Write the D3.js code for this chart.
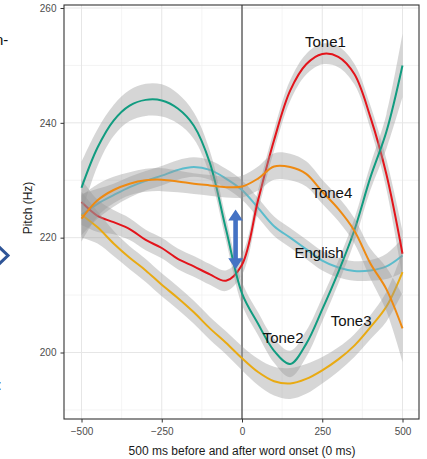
<!DOCTYPE html>
<html>
<head>
<meta charset="utf-8">
<script src="https://cdn.jsdelivr.net/npm/d3@7"></script>
<style>
  html, body { margin: 0; padding: 0; background: #fff; }
  svg { display: block; font-family: "Liberation Sans", Arial, sans-serif; }
</style>
</head>
<body>
<svg id="chart" width="427" height="459"></svg>
<script>
// Time points (ms relative to word onset)
const times = [-500, -450, -400, -350, -300, -250, -200, -150, -100, -50, 0,
               50, 100, 150, 200, 250, 300, 350, 400, 450, 500];

// Smoothed pitch (Hz) per condition
const english = [224, 225.9, 227.4, 228.8, 229.9, 230.8, 231.8, 232.3, 231.8, 230.3, 228.3,
                 225.2, 222, 220, 218, 216, 214.8, 214.2, 214.3, 215, 216.9];
const tone1 = [226.2, 223.8, 222.7, 221.5, 219.6, 218.2, 216.3, 215, 213.6, 212.5, 215.3,
               226.5, 237, 245.6, 250.2, 252, 251.5, 248.5, 241, 231, 217.2];
const tone2 = [228.7, 235.7, 240.4, 243, 244, 243.9, 242.5, 239.5, 233, 221.5, 210.3,
               205, 200.3, 198, 201.5, 207.5, 214, 221.3, 230.5, 238.5, 250];
const tone3 = [224, 221.8, 219, 216.5, 214.3, 211.8, 209.5, 207, 204.2, 201.7, 199,
               196.6, 195, 194.6, 195.4, 196.9, 198.8, 201.2, 204.4, 208, 214];
const tone4 = [223.3, 226.5, 228.3, 229.4, 230, 230.1, 229.8, 229.4, 229.1, 228.8, 228.9,
               230.3, 232.4, 232.3, 231.1, 228, 225, 221.2, 215.5, 211, 204.2];

// Half-widths of the confidence bands (Hz)
const englishSE = [3.6, 2.6, 2, 1.8, 1.7, 1.7, 1.7, 1.7, 1.7, 1.7, 1.7,
                   1.7, 1.7, 1.7, 1.7, 1.7, 1.7, 1.7, 1.8, 2.2, 3];
const tone1SE = [4, 2.8, 2.1, 1.9, 1.8, 1.8, 1.8, 1.8, 1.8, 1.8, 1.8,
                 1.8, 1.8, 1.8, 1.8, 1.8, 1.8, 1.8, 2, 2.6, 4];
const tone2SE = [4.5, 3.2, 2.7, 2.7, 2.8, 2.8, 2.6, 2.3, 2.1, 2, 2,
                 2, 2.1, 2.3, 2.3, 2.1, 2, 2, 2.2, 3, 5.5];
const tone3SE = [4, 2.8, 2.2, 2, 2, 2, 2, 2, 2, 2, 2.1,
                 2.3, 2.5, 2.7, 2.6, 2.3, 2.1, 2, 2.1, 2.6, 3.6];
const tone4SE = [4, 2.8, 2.3, 2, 2, 2, 1.9, 1.8, 1.8, 1.8, 1.9,
                 2.1, 2.3, 2.3, 2.2, 2.1, 2.1, 2.2, 2.6, 3.8, 5.8];

const seriesNames = ["English", "Tone1", "Tone2", "Tone3", "Tone4"];
const seriesValues = [english, tone1, tone2, tone3, tone4];
const seriesSE = [englishSE, tone1SE, tone2SE, tone3SE, tone4SE];
const seriesColors = ["#5bbccc", "#e3141b", "#119c80", "#e9aa12", "#ee8a12"];

// Direct labels: [name, time (ms), pitch (Hz)]
const labelNames = ["Tone1", "Tone4", "English", "Tone2", "Tone3"];
const labelTimes = [260, 280, 240, 128, 340];
const labelPitch = [253.2, 226.9, 216.4, 201.7, 204.7];

const xTicks = [-500, -250, 0, 250, 500];
const xMinor = [-375, -125, 125, 375];
const yTicks = [200, 220, 240, 260];
const yMinor = [190, 210, 230, 250];

// Annotation arrow span (ms, Hz)
const arrowTime = -20;
const arrowPitch = [224.9, 214.5];

const svg = d3.select("#chart");
const panel = { left: 64, right: 419, top: 5, bottom: 419 };

const x = d3.scaleLinear().domain([-500, 500]).range([81.5, 402.5]);
const y = d3.scaleLinear().domain([200, 260]).range([352.5, 8]);

// Grid
const grid = svg.append("g");
grid.selectAll("line.xminor").data(xMinor).join("line")
  .attr("x1", d => x(d)).attr("x2", d => x(d))
  .attr("y1", panel.top).attr("y2", panel.bottom)
  .attr("stroke", "#efefef").attr("stroke-width", 0.7);
grid.selectAll("line.yminor").data(yMinor).join("line")
  .attr("x1", panel.left).attr("x2", panel.right)
  .attr("y1", d => y(d)).attr("y2", d => y(d))
  .attr("stroke", "#efefef").attr("stroke-width", 0.7);
grid.selectAll("line.xmajor").data(xTicks).join("line")
  .attr("x1", d => x(d)).attr("x2", d => x(d))
  .attr("y1", panel.top).attr("y2", panel.bottom)
  .attr("stroke", "#e6e6e6").attr("stroke-width", 1);
grid.selectAll("line.ymajor").data(yTicks).join("line")
  .attr("x1", panel.left).attr("x2", panel.right)
  .attr("y1", d => y(d)).attr("y2", d => y(d))
  .attr("stroke", "#e6e6e6").attr("stroke-width", 1);

// Onset line
svg.append("line")
  .attr("x1", x(0)).attr("x2", x(0))
  .attr("y1", panel.top).attr("y2", panel.bottom)
  .attr("stroke", "#333").attr("stroke-width", 1.1);

const curve = d3.curveCatmullRom.alpha(0.5);
const area = d3.area()
  .x(d => x(d.t)).y0(d => y(d.v - d.se)).y1(d => y(d.v + d.se)).curve(curve);
const line = d3.line().x(d => x(d.t)).y(d => y(d.v)).curve(curve);

svg.append("clipPath").attr("id", "panel-clip").append("rect")
  .attr("x", panel.left).attr("y", panel.top)
  .attr("width", panel.right - panel.left).attr("height", panel.bottom - panel.top);

const smooths = svg.append("g").attr("clip-path", "url(#panel-clip)");
seriesNames.forEach((name, i) => {
  const pts = times.map((t, j) => ({ t, v: seriesValues[i][j], se: seriesSE[i][j] }));
  smooths.append("path").datum(pts)
    .attr("d", area).attr("fill", "#999").attr("fill-opacity", 0.4);
  smooths.append("path").datum(pts)
    .attr("d", line).attr("fill", "none")
    .attr("stroke", seriesColors[i]).attr("stroke-width", 2);
});

// Panel border
svg.append("rect")
  .attr("x", panel.left).attr("y", panel.top)
  .attr("width", panel.right - panel.left).attr("height", panel.bottom - panel.top)
  .attr("fill", "none").attr("stroke", "#333").attr("stroke-width", 1.1);

// Axes
const xAxis = svg.append("g").attr("transform", `translate(0,${panel.bottom})`)
  .call(d3.axisBottom(x).tickValues(xTicks).tickSize(3.5).tickSizeOuter(0).tickPadding(5));
const yAxis = svg.append("g").attr("transform", `translate(${panel.left},0)`)
  .call(d3.axisLeft(y).tickValues(yTicks).tickSize(3.5).tickSizeOuter(0).tickPadding(4));
[xAxis, yAxis].forEach(a => {
  a.select(".domain").remove();
  a.selectAll(".tick line").attr("stroke", "#333");
  a.selectAll(".tick text").attr("fill", "#4d4d4d")
    .style("font-size", "10px").style("font-family", "Liberation Sans, Arial, sans-serif");
});

svg.append("text")
  .attr("x", 242).attr("y", 455)
  .attr("text-anchor", "middle").attr("fill", "#1a1a1a")
  .style("font-size", "12px")
  .text("500 ms before and after word onset (0 ms)");
svg.append("text")
  .attr("transform", "translate(32,208) rotate(-90)")
  .attr("text-anchor", "middle").attr("fill", "#1a1a1a")
  .style("font-size", "12px")
  .text("Pitch (Hz)");

// Direct series labels
labelNames.forEach((n, i) => {
  svg.append("text")
    .attr("x", x(labelTimes[i])).attr("y", y(labelPitch[i]))
    .attr("text-anchor", "middle").attr("fill", "#111")
    .style("font-size", "15px")
    .text(n);
});

// Double-headed annotation arrow
const ax = x(arrowTime), ay1 = y(arrowPitch[0]), ay2 = y(arrowPitch[1]);
const hw = 7.3, hh = 11, sw = 2.3;
svg.append("path")
  .attr("d", `M${ax},${ay1} L${ax + hw},${ay1 + hh} L${ax + sw},${ay1 + hh}
              L${ax + sw},${ay2 - hh} L${ax + hw},${ay2 - hh} L${ax},${ay2}
              L${ax - hw},${ay2 - hh} L${ax - sw},${ay2 - hh} L${ax - sw},${ay1 + hh}
              L${ax - hw},${ay1 + hh} Z`)
  .attr("fill", "#4472c4");

// Fragments of neighbouring slide content at the left edge
svg.append("text").attr("x", -5).attr("y", 45)
  .style("font-size", "15px").attr("fill", "#111").text("n-");
svg.append("path")
  .attr("d", "M-20,250 L-4,250 L-4,244 L8,255.5 L-4,267 L-4,261 L-20,261 Z")
  .attr("fill", "#fff").attr("stroke", "#2f5597").attr("stroke-width", 3)
  .attr("stroke-linejoin", "miter");
svg.append("text").attr("x", -2.6).attr("y", 390)
  .style("font-size", "15px").attr("fill", "#111").text(":");
</script>
</body>
</html>
